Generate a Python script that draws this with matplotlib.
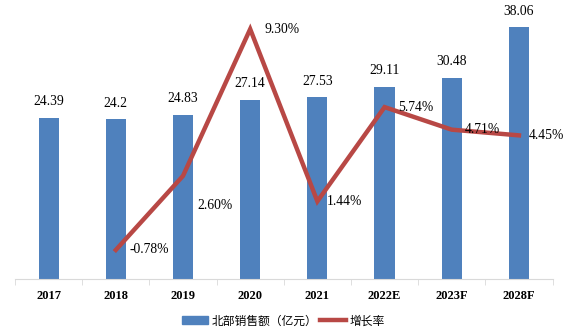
import matplotlib.pyplot as plt
import numpy as np
from matplotlib.lines import Line2D
from matplotlib.patches import Patch

# --- dados ---
anos = ['2017', '2018', '2019', '2020', '2021', '2022E', '2023F', '2028F']
vendas = [24.39, 24.2, 24.83, 27.14, 27.53, 29.11, 30.48, 38.06]
crescimento = [None, -0.78, 2.60, 9.30, 1.44, 5.74, 4.71, 4.45]

cor_barra = '#4F81BD'
cor_linha = '#B84845'
fonte_num = 'Liberation Serif'

fig = plt.figure(figsize=(5.67, 3.36), dpi=100)
ax = fig.add_axes([0.0265, 0.170, 0.948, 0.806])
x = np.arange(len(anos))

barras = ax.bar(x, vendas, width=0.3, color=cor_barra, zorder=2)
for b, v in zip(barras, vendas):
    ax.annotate(f'{v:g}', (b.get_x() + b.get_width() / 2, v), xytext=(0, 11.5),
                textcoords='offset points', ha='center', va='center',
                fontsize=9.8, family=fonte_num)

ax.set_xlim(-0.5, len(anos) - 0.5)
ax.set_ylim(0, 41)
ax.set_yticks([])
for s in ['top', 'left', 'right']:
    ax.spines[s].set_visible(False)
ax.spines['bottom'].set_color('#D9D9D9')
ax.set_xticks(x)
ax.set_xticklabels(anos, fontsize=9, family=fonte_num, fontweight='bold')
ax.tick_params(axis='x', which='major', length=0, pad=8)
ax.set_xticks(np.arange(-0.5, len(anos)), minor=True)
ax.tick_params(axis='x', which='minor', length=4, color='#D9D9D9')

# --- linha de crescimento (eixo secundário) ---
ax2 = ax.twinx()
xl = [i for i, c in enumerate(crescimento) if c is not None]
yl = [c for c in crescimento if c is not None]
ax2.plot(xl, yl, color=cor_linha, lw=3.2, solid_joinstyle='miter', zorder=3)
ax2.set_ylim(-2.1, 10.26)
ax2.axis('off')

desloc = [(9.5, 0), (10, -21), (10, 0), (7, 0), (9.5, 0), (9, 0), (7, 0)]
for xi, yi, d in zip(xl, yl, desloc):
    ax2.annotate(f'{yi:.2f}%', (xi, yi), xytext=d, textcoords='offset points',
                 ha='left', va='center', fontsize=9.8, family=fonte_num)

legenda = [Patch(color=cor_barra, label='北部销售额（亿元）'),
           Line2D([0], [0], color=cor_linha, lw=3.2, label='增长率')]
fig.legend(handles=legenda, loc='center', bbox_to_anchor=(0.5, 0.045), ncol=2,
           frameon=False, prop={'family': ['Noto Sans CJK SC', 'DejaVu Sans'], 'size': 8.5},
           handlelength=2.2, handleheight=0.6, handletextpad=0.3, columnspacing=0.2)

fig.savefig('out.png', dpi=100)
